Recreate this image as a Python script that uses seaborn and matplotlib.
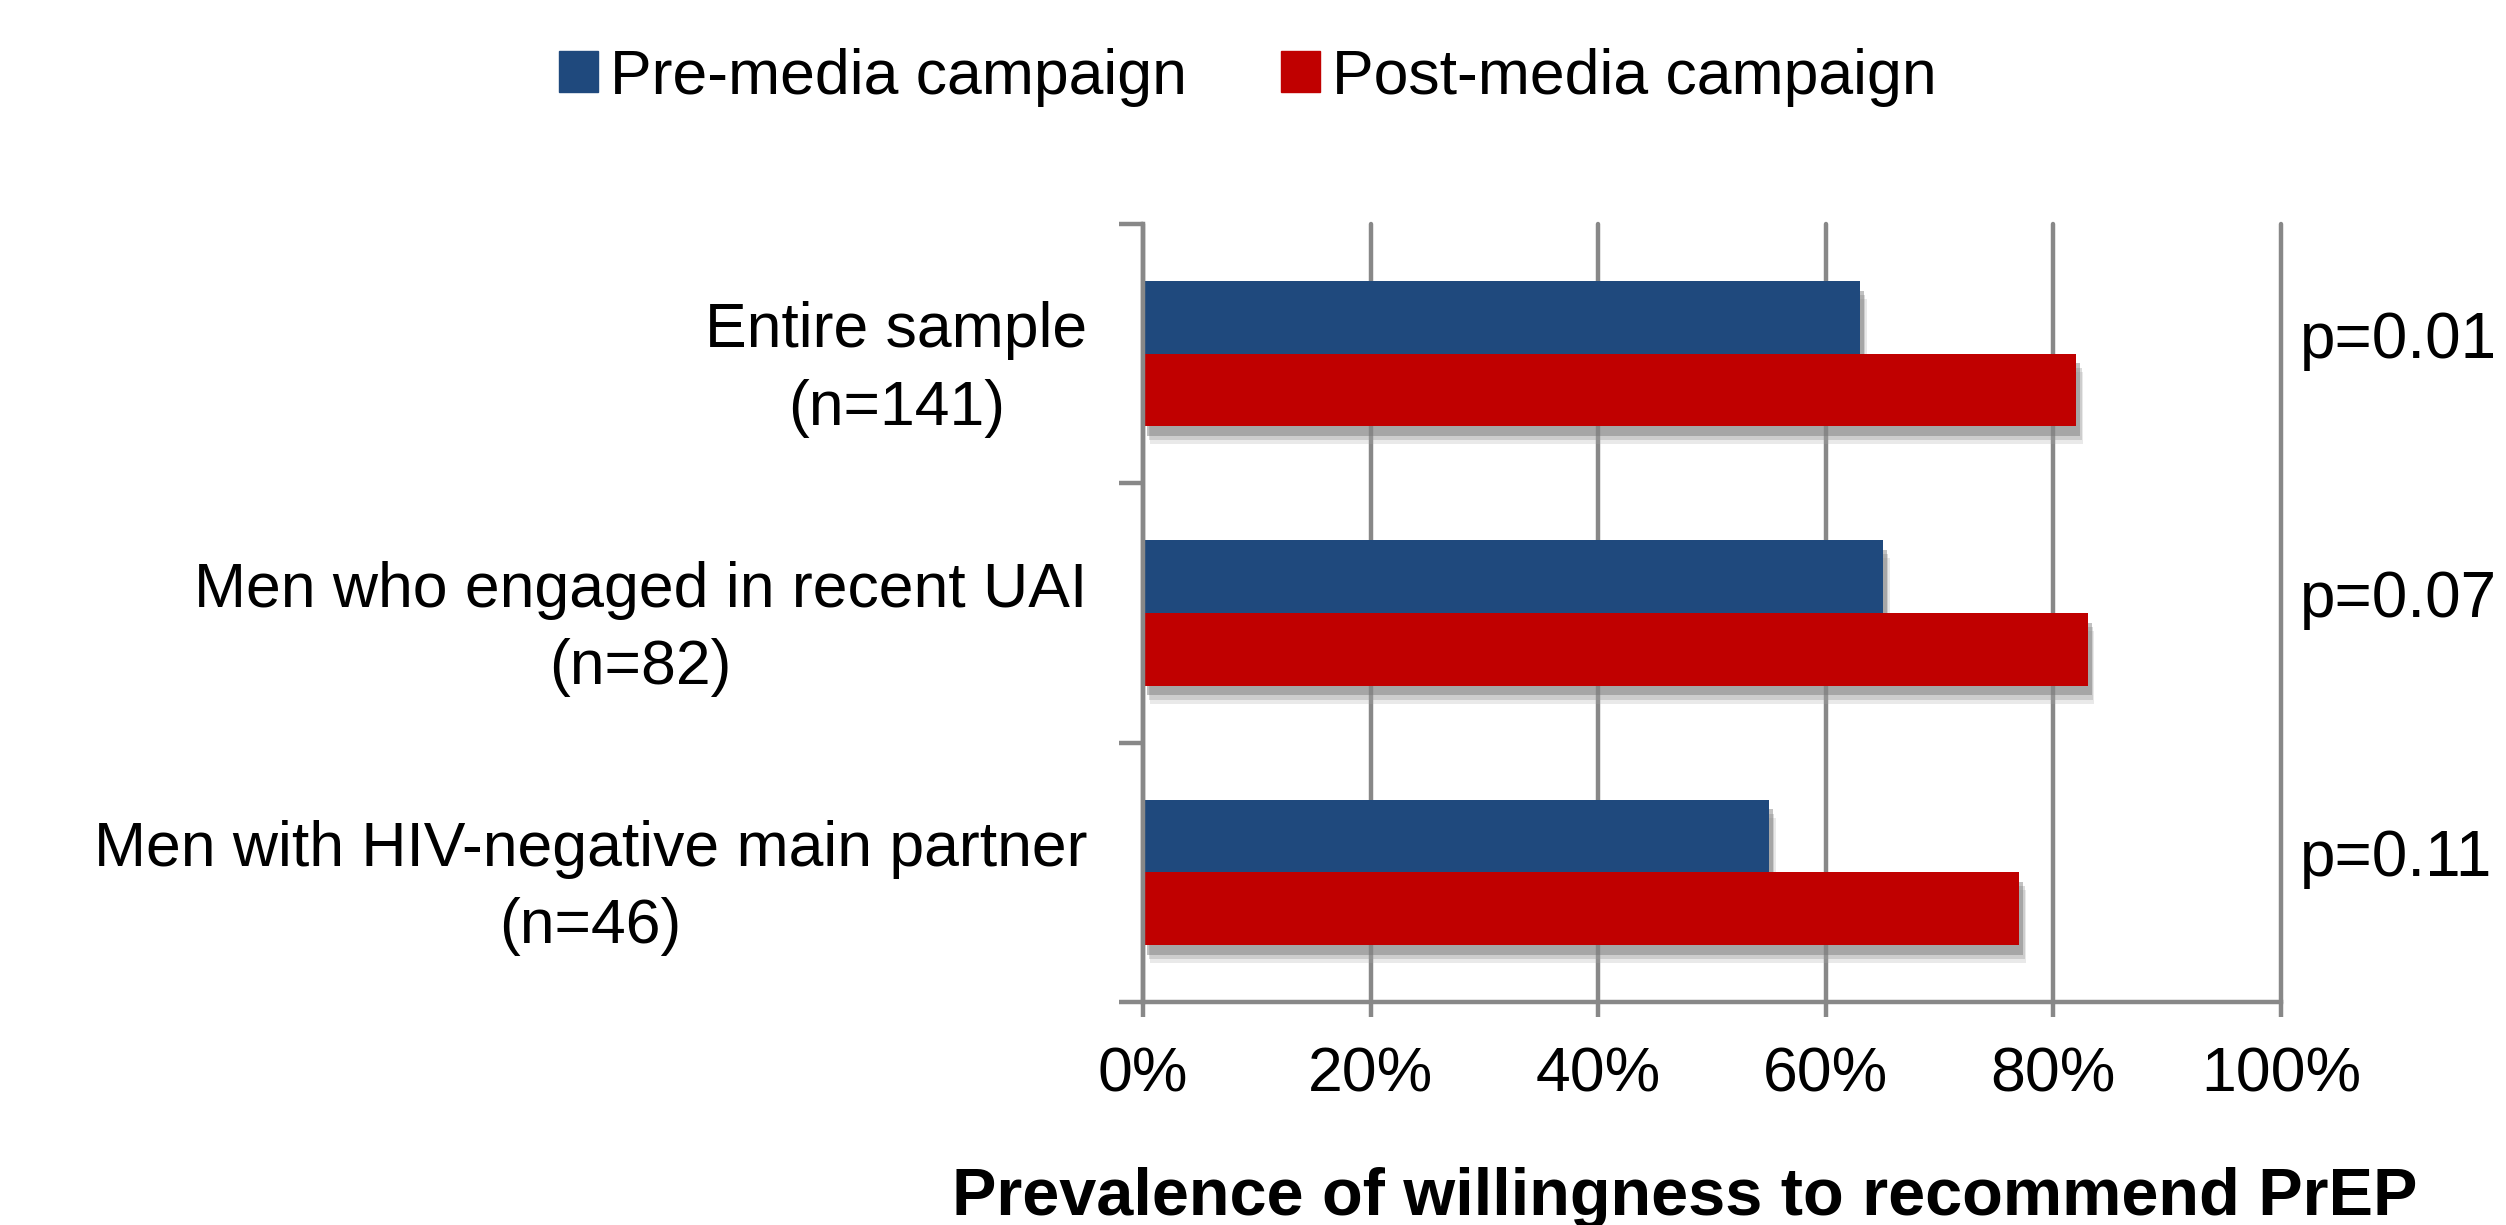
import matplotlib
matplotlib.use("Agg")
import matplotlib.pyplot as plt
import matplotlib.patheffects as pe
import matplotlib.transforms as mtransforms
from matplotlib.ticker import FixedLocator, FuncFormatter
import pandas as pd
import seaborn as sns

groups = ["Entire sample\n(n=141)",
          "Men who engaged in recent UAI\n(n=82)",
          "Men with HIV-negative main partner\n(n=46)"]
pre_media = [63, 65, 55]
post_media = [82, 83, 77]
p_values = ["p=0.01", "p=0.07", "p=0.11"]
series = ["Pre-media campaign", "Post-media campaign"]
colors = ["#1F497D", "#C00000"]

df = pd.DataFrame({
    "group": groups * 2,
    "campaign": [series[0]] * 3 + [series[1]] * 3,
    "value": pre_media + post_media,
})

sns.set_style("white")
plt.rcParams['font.family'] = ['Liberation Sans', 'DejaVu Sans']
plt.rcParams['text.color'] = 'black'
plt.rcParams['xtick.color'] = 'black'
plt.rcParams['ytick.color'] = 'black'
plt.rcParams['axes.labelcolor'] = 'black'

fig = plt.figure(figsize=(25.06, 12.25), dpi=100)
ax = fig.add_axes([0.4561, 0.182, 0.4541, 0.6351])

sns.barplot(data=df, y="group", x="value", hue="campaign", orient="h",
            palette=colors, width=0.56, ax=ax, saturation=1, legend=False)

# soft drop shadow under the bars
for bar in ax.patches:
    bar.set_linewidth(0)
    bar.set_path_effects([
        pe.SimplePatchShadow(offset=(5, -13), shadow_rgbFace="#aaaaaa", alpha=0.25),
        pe.SimplePatchShadow(offset=(4, -10), shadow_rgbFace="#999999", alpha=0.35),
        pe.SimplePatchShadow(offset=(3, -7), shadow_rgbFace="#777777", alpha=0.45),
        pe.Normal()])

grid_col = "#888888"
lw = 3.2
ax.set_xlim(0, 100)
ax.set_ylim(2.5, -0.5)
ax.xaxis.set_major_locator(FixedLocator([0, 20, 40, 60, 80, 100]))
ax.xaxis.set_major_formatter(FuncFormatter(lambda v, _: "%d%%" % v))
ax.grid(axis="x", color=grid_col, linewidth=lw)
ax.set_axisbelow(True)
ax.tick_params(axis="x", labelsize=45, length=11, width=lw, color=grid_col, pad=20, bottom=True)
for gl in ax.get_xgridlines():
    gl.set_clip_on(False)

ax.set_yticks(range(3))
ax.set_yticklabels(groups, fontsize=45, multialignment="center", linespacing=1.4)
ax.tick_params(axis="y", which="major", length=0, pad=40)
ax.set_yticks([-0.5, 0.5, 1.5, 2.5], minor=True)
ax.tick_params(axis="y", which="minor", length=17, width=lw, color=grid_col, left=True)
ax.set_ylabel("")

for side in ["top", "right"]:
    ax.spines[side].set_visible(False)
for side in ["left", "bottom"]:
    ax.spines[side].set_color(grid_col)
    ax.spines[side].set_linewidth(lw)

trans = mtransforms.blended_transform_factory(ax.transAxes, ax.transData)
for i, p in enumerate(p_values):
    ax.text(1.017, i - 0.05, p, transform=trans, ha="left", va="center", fontsize=46)

ax.set_xlabel("Prevalence of willingness to recommend PrEP", fontsize=48, fontweight="bold",
              family=["Liberation Sans Narrow", "Liberation Sans"], ha="left", va="center")
ax.xaxis.set_label_coords(-0.168, -0.252)

handles = [plt.Rectangle((0, 0), 1, 1, color=c) for c in colors]
fig.legend(handles, series, loc="center", bbox_to_anchor=(0.498, 0.937), ncol=2,
           frameon=False, fontsize=45, handlelength=0.62, handleheight=0.62,
           handletextpad=0.2, columnspacing=1.5)

fig.savefig("out.png", dpi=100)
